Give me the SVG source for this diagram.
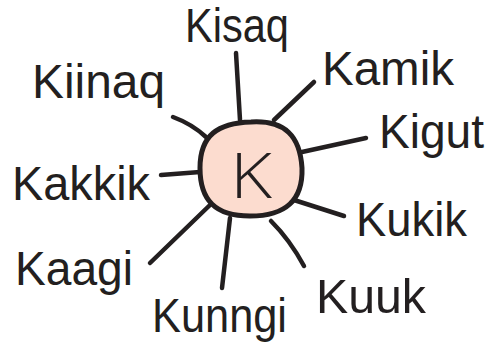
<svg xmlns="http://www.w3.org/2000/svg" width="488" height="357" viewBox="0 0 488 357">
<style>
.lbl{font-family:"Liberation Sans","Noto Sans",sans-serif;font-size:48px;fill:#231f20;}
.spoke{stroke:#231f20;stroke-width:4.5;stroke-linecap:round;fill:none;}
.big{font-family:"Open Sans","Liberation Sans",sans-serif;font-weight:300;font-size:62px;fill:#231f20;}
</style>
<rect width="488" height="357" fill="#ffffff"/>
<g id="connectors">
<path class="spoke" d="M236 53 L240 120"/>
<path class="spoke" d="M173 117 Q192 124 206 137"/>
<path class="spoke" d="M161 175 L200 172"/>
<path class="spoke" d="M314 82 L274 120"/>
<path class="spoke" d="M366 138 L302 152"/>
<path class="spoke" d="M344 216 L294 200"/>
<path class="spoke" d="M304 266 Q290 240 271 221"/>
<path class="spoke" d="M222 288 L230 218"/>
<path class="spoke" d="M150 263 L210 205"/>
</g>
<g id="center">
<path d="M251 122 C285 120 300 136 302 168 C303 200 286 216 250 216 C215 216 200 200 200 168 C200 135 218 123 251 122 Z" fill="#fcdccf" stroke="#231f20" stroke-width="5"/>
<text class="big" x="230" y="198" textLength="42" lengthAdjust="spacingAndGlyphs">K</text>
</g>
<g id="kisaq"><text class="lbl" x="185" y="42" textLength="104" lengthAdjust="spacingAndGlyphs">Kisaq</text></g>
<g id="kiinaq"><text class="lbl" x="32" y="98" textLength="133" lengthAdjust="spacingAndGlyphs">Kiinaq</text></g>
<g id="kamik"><text class="lbl" x="322" y="85" textLength="132" lengthAdjust="spacingAndGlyphs">Kamik</text></g>
<g id="kigut"><text class="lbl" x="379" y="148" textLength="105" lengthAdjust="spacingAndGlyphs">Kigut</text></g>
<g id="kakkik"><text class="lbl" x="12" y="200" textLength="138" lengthAdjust="spacingAndGlyphs">Kakkik</text></g>
<g id="kukik"><text class="lbl" x="356" y="236" textLength="111" lengthAdjust="spacingAndGlyphs">Kukik</text></g>
<g id="kaagi"><text class="lbl" x="15" y="285" textLength="118" lengthAdjust="spacingAndGlyphs">Kaagi</text></g>
<g id="kuuk"><text class="lbl" x="316" y="313" textLength="110" lengthAdjust="spacingAndGlyphs">Kuuk</text></g>
<g id="kunngi"><text class="lbl" x="152" y="332" textLength="135" lengthAdjust="spacingAndGlyphs">Kunngi</text></g>
</svg>
